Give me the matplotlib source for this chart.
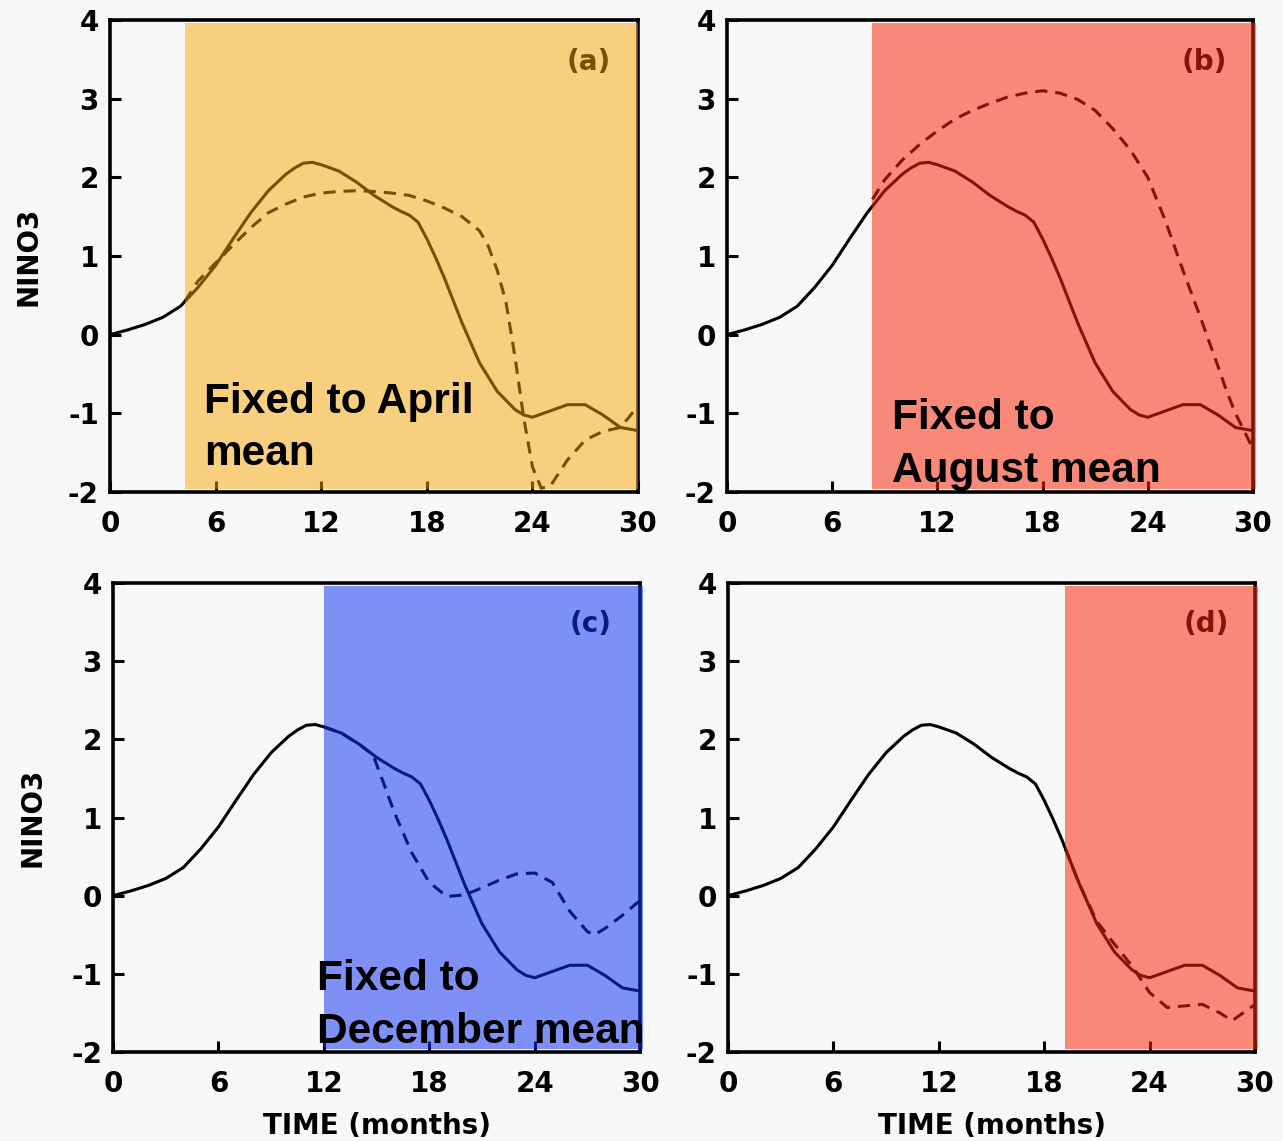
import matplotlib.pyplot as plt
from matplotlib.patches import Rectangle

plt.rcParams["axes.unicode_minus"] = False
plt.rcParams["font.family"] = "DejaVu Sans"

# control run (solid line), shared by all panels
t_ctrl = [0, 1, 2, 3, 4, 5, 6, 7, 8, 9, 10, 10.5, 11, 11.5, 12, 13, 14, 15, 16,
          16.5, 17, 17.5, 18, 18.5, 19, 20, 21, 22, 23, 23.5, 24, 25, 26, 27, 28,
          29, 30]
control = [0.0, 0.06, 0.13, 0.22, 0.36, 0.6, 0.88, 1.22, 1.55, 1.83, 2.04, 2.12,
           2.18, 2.19, 2.16, 2.08, 1.94, 1.77, 1.63, 1.57, 1.52, 1.43, 1.22, 0.98,
           0.72, 0.15, -0.36, -0.72, -0.95, -1.02, -1.05, -0.97, -0.89, -0.89,
           -1.02, -1.18, -1.22]

# fixed-season runs (dashed lines)
t_a = [4.25, 5, 6, 7, 8, 9, 10, 11, 12, 13, 14, 15, 16, 17, 18, 19, 20, 21, 21.5,
       22, 22.5, 23, 23.5, 24, 24.5, 25, 26, 27, 28, 29, 30]
dash_a = [0.42, 0.68, 0.91, 1.14, 1.36, 1.55, 1.66, 1.75, 1.80, 1.82, 1.83, 1.82,
          1.80, 1.77, 1.70, 1.61, 1.50, 1.32, 1.12, 0.82, 0.41, -0.27, -1.05,
          -1.68, -1.95, -1.93, -1.59, -1.34, -1.23, -1.18, -0.91]

t_b = [8.3, 9, 10, 11, 12, 13, 14, 15, 16, 17, 18, 19, 20, 21, 22, 23, 24, 25,
       26, 27, 28, 28.5, 29, 30]
dash_b = [1.72, 1.97, 2.22, 2.42, 2.59, 2.74, 2.85, 2.94, 3.02, 3.07, 3.1, 3.07,
          2.99, 2.85, 2.62, 2.35, 2.0, 1.45, 0.82, 0.22, -0.4, -0.72, -1.0, -1.45]

t_c = [12, 13, 14, 14.8, 15.5, 16, 17, 18, 19, 20, 21, 22, 23, 24, 25, 26, 27,
       27.4, 28, 29, 30]
dash_c = [2.16, 2.08, 1.94, 1.8, 1.38, 1.07, 0.55, 0.17, -0.01, 0.01, 0.1, 0.2,
          0.28, 0.29, 0.17, -0.2, -0.46, -0.5, -0.42, -0.25, -0.06]

t_d = [19.2, 20, 21, 22, 23, 24, 25, 26, 27, 28, 28.7, 30]
dash_d = [0.6, 0.15, -0.33, -0.62, -0.9, -1.24, -1.43, -1.41, -1.39, -1.5,
          -1.6, -1.39]

fix_start = [4.25, 8.3, 12, 19.2]
labels = ["(a)", "(b)", "(c)", "(d)"]
notes = ["Fixed to April\nmean", "Fixed to\nAugust mean", "Fixed to\nDecember mean", None]

bg = "#f7f7f7"
shade = [("#f7a600", 0.49), ("#fa280a", 0.53), ("#0f32f5", 0.52), ("#fa280a", 0.53)]
positions = [
    [0.0857, 0.5688, 0.4116, 0.4137],
    [0.5666, 0.5688, 0.4100, 0.4137],
    [0.0881, 0.0780, 0.4108, 0.4110],
    [0.5674, 0.0780, 0.4108, 0.4110],
]
# baseline of the last line of each note
note_pos = [(5.35, -1.66), (9.4, -1.87), (11.62, -1.88)]
runs = [(t_a, dash_a), (t_b, dash_b), (t_c, dash_c), (t_d, dash_d)]

fig = plt.figure(figsize=(12.83, 11.41), dpi=100, facecolor=bg)

for i in range(4):
    ax = fig.add_axes(positions[i], facecolor=bg)
    ax.plot(t_ctrl, control, color="black", lw=2.2, zorder=2)
    tx, ty = runs[i]
    ax.plot(tx, ty, color="black", lw=2.2, ls=(0, (4, 2.6)), zorder=2)

    ax.text(27.2, 3.47, labels[i], fontsize=20, fontweight="bold",
            ha="center", va="center", color="black", zorder=2)

    color, alpha = shade[i]
    right = 30.0 if i == 0 else 30.15
    ax.add_patch(Rectangle((fix_start[i], -1.96), right - fix_start[i], 5.92,
                           facecolor=color, alpha=alpha, lw=0, zorder=3, clip_on=False))

    if notes[i]:
        x, y = note_pos[i]
        ax.text(x, y, notes[i], fontsize=30.5, fontweight="bold",
                family="Liberation Sans", ha="left", va="baseline",
                linespacing=1.4, color="black", zorder=4)

    ax.set_xlim(0, 30)
    ax.set_ylim(-2, 4)
    ax.set_xticks([0, 6, 12, 18, 24, 30])
    ax.set_yticks([-2, -1, 0, 1, 2, 3, 4])
    ax.tick_params(direction="in", length=8, width=2.2, labelsize=20)
    ax.tick_params(axis="x", pad=13)
    ax.tick_params(axis="y", pad=8)
    for lab in ax.get_xticklabels() + ax.get_yticklabels():
        lab.set_fontweight("bold")
    for sp in ax.spines.values():
        sp.set_linewidth(2.6)

    if i in (0, 2):
        ax.set_ylabel("NINO3", fontsize=20, fontweight="bold", labelpad=18)
    if i in (2, 3):
        ax.set_xlabel("TIME (months)", fontsize=20, fontweight="bold", labelpad=10)

fig.savefig("out.png", dpi=100, facecolor=bg)
